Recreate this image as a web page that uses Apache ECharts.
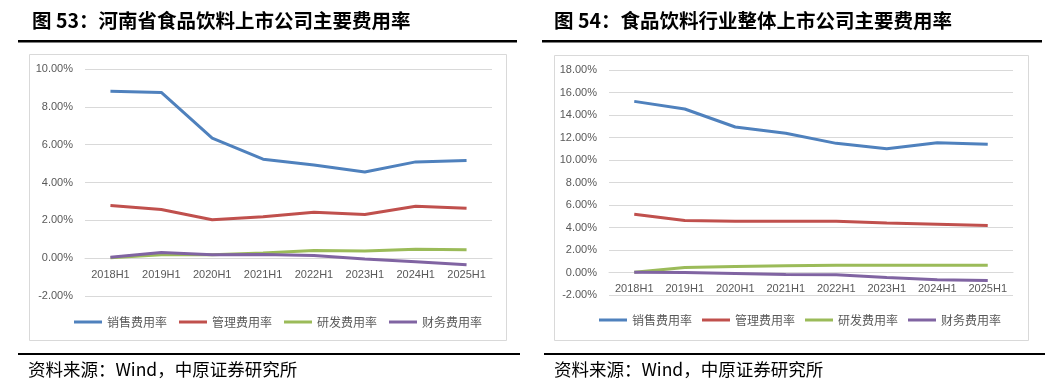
<!DOCTYPE html>
<html><head><meta charset="utf-8">
<script src="https://cdn.jsdelivr.net/npm/echarts@6/dist/echarts.min.js"></script>
<style>html,body{margin:0;padding:0;background:#fff}#c{width:1062px;height:386px}</style>
</head><body><div id="c"></div>
<script>
const categories = ['2018H1','2019H1','2020H1','2021H1','2022H1','2023H1','2024H1','2025H1'];
const seriesNames = ['销售费用率','管理费用率','研发费用率','财务费用率'];
// Figure 53: Henan listed food & beverage companies (%)
const henanSales   = [8.83, 8.76, 6.34, 5.23, 4.93, 4.56, 5.09, 5.16];
const henanAdmin   = [2.78, 2.57, 2.03, 2.19, 2.43, 2.31, 2.75, 2.64];
const henanRD      = [0.02, 0.18, 0.18, 0.27, 0.40, 0.38, 0.47, 0.44];
const henanFinance = [0.05, 0.30, 0.18, 0.19, 0.14, -0.05, -0.19, -0.35];
// Figure 54: whole food & beverage industry (%)
const allSales   = [15.21, 14.53, 12.93, 12.37, 11.48, 11.01, 11.54, 11.39];
const allAdmin   = [5.18, 4.62, 4.56, 4.56, 4.56, 4.41, 4.29, 4.17];
const allRD      = [0.03, 0.44, 0.53, 0.59, 0.65, 0.65, 0.65, 0.65];
const allFinance = [0.03, 0.00, -0.09, -0.18, -0.21, -0.44, -0.65, -0.71];
const leftTicks  = {min: -2, max: 10, interval: 2};
const rightTicks = {min: -2, max: 18, interval: 2};
const title53 = '图 53：河南省食品饮料上市公司主要费用率';
const title54 = '图 54：食品饮料行业整体上市公司主要费用率';
const sourceText = '资料来源：Wind，中原证券研究所';

const colors = ['#4f81bd','#c0504d','#9bbb59','#8064a2'];
const gridColor = '#d9d9d9';
const labelColor = '#595959';
const font = '"Liberation Sans", Arial, sans-serif';
const cjk = '"Noto Sans CJK SC", sans-serif';
const H = 386;
const grids = [
  {left:85, right:570, top:69, bottom:90},
  {left:609, right:49, top:70, bottom:91}
];
const ticks = [leftTicks, rightTicks];

function zeroOffset(gi){
  const g = grids[gi], t = ticks[gi];
  const h = H - g.top - g.bottom;
  return -h * (0 - t.min) / (t.max - t.min);
}
function xAxis(gi){
  return {type:'category', gridIndex:gi, data:categories, boundaryGap:true,
    position:'bottom', offset: zeroOffset(gi),
    axisLine:{show:true, onZero:false, lineStyle:{color:gridColor}},
    axisTick:{show:false},
    axisLabel:{color:labelColor, fontSize:11, fontFamily:font, margin:11},
    splitLine:{show:false}};
}
function yAxis(gi, t){
  return {type:'value', gridIndex:gi, min:t.min, max:t.max, interval:t.interval,
    axisLine:{show:false}, axisTick:{show:false},
    axisLabel:{color:labelColor, fontSize:11, fontFamily:font, margin:12,
      formatter: v => v.toFixed(2) + '%'},
    splitLine:{lineStyle:{color:gridColor, width:1}}};
}
function mk(name, data, gi, ci){
  return {name, type:'line', xAxisIndex:gi, yAxisIndex:gi, data, symbol:'none',
    lineStyle:{width:3, color:colors[ci]}, itemStyle:{color:colors[ci]}, silent:true, animation:false};
}
const legendBase = {data:seriesNames, icon:'rect', itemWidth:28, itemHeight:3,
  textStyle:{color:labelColor, fontSize:12, fontFamily:cjk}, selectedMode:false};

const chart = echarts.init(document.getElementById('c'), null, {renderer:'canvas'});
chart.setOption({
  animation:false,
  color:colors,
  grid: grids.map(g => Object.assign({containLabel:false}, g)),
  xAxis:[xAxis(0), xAxis(1)],
  yAxis:[yAxis(0, leftTicks), yAxis(1, rightTicks)],
  legend:[
    Object.assign({}, legendBase, {left:69, top:311, itemGap:12}),
    Object.assign({}, legendBase, {left:594, top:309, itemGap:10})
  ],
  series:[
    mk(seriesNames[0], henanSales, 0, 0),
    mk(seriesNames[1], henanAdmin, 0, 1),
    mk(seriesNames[2], henanRD, 0, 2),
    mk(seriesNames[3], henanFinance, 0, 3),
    mk(seriesNames[0], allSales, 1, 0),
    mk(seriesNames[1], allAdmin, 1, 1),
    mk(seriesNames[2], allRD, 1, 2),
    mk(seriesNames[3], allFinance, 1, 3)
  ],
  graphic:[
    {type:'rect', z:-1, shape:{x:29.5, y:54.5, width:477, height:286}, style:{fill:'#fff', stroke:gridColor, lineWidth:1}},
    {type:'rect', z:-1, shape:{x:554.5, y:55.5, width:474, height:285}, style:{fill:'#fff', stroke:gridColor, lineWidth:1}},
    {type:'rect', shape:{x:18, y:40, width:499, height:2.5}, style:{fill:'#000'}},
    {type:'rect', shape:{x:542, y:40, width:500, height:2.5}, style:{fill:'#000'}},
    {type:'rect', shape:{x:18, y:353, width:502, height:2}, style:{fill:'#000'}},
    {type:'rect', shape:{x:544, y:353, width:501, height:2}, style:{fill:'#000'}},
    {type:'text', left:32, top:11, style:{text:title53, fill:'#000', font:'bold 19.5px ' + cjk}},
    {type:'text', left:554, top:11, style:{text:title54, fill:'#000', font:'bold 19.5px ' + cjk}},
    {type:'text', left:28, top:361, style:{text:sourceText, fill:'#000', font:'17.5px ' + cjk}},
    {type:'text', left:554, top:361, style:{text:sourceText, fill:'#000', font:'17.5px ' + cjk}}
  ]
});
</script></body></html>
